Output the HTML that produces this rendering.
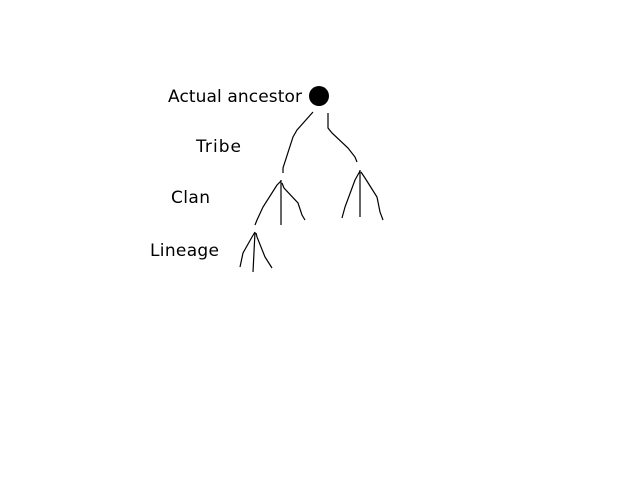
<!DOCTYPE html>
<html><head><meta charset="utf-8"><style>
html,body{margin:0;padding:0;background:#fff;width:640px;height:480px;overflow:hidden}
svg{display:block}
text{font-family:"DejaVu Sans","Liberation Sans",sans-serif;font-size:17px;fill:#000;font-weight:500}
</style></head><body>
<svg width="640" height="480">
<text x="168" y="102" textLength="134">Actual ancestor</text>
<text x="196" y="152" textLength="45">Tribe</text>
<text x="171" y="203" textLength="39">Clan</text>
<text x="150" y="256" textLength="69">Lineage</text>
<circle cx="319" cy="96" r="10" fill="#000"/>
<g fill="none" stroke="#000" stroke-width="1.2">
<polyline points="313,112 297,130 293,137 283,168 283,173"/>
<polyline points="328,113 328,128 332,133 348,148 355,157 357,162"/>
<polyline points="281,181 277,185 263,207 257,220 255,225"/>
<line x1="281" y1="180" x2="281" y2="225"/>
<polyline points="282,183 284,188 298,203 302,215 305,220"/>
<polyline points="360,171 355,180 345,207 342,218"/>
<line x1="360" y1="170" x2="360" y2="217"/>
<polyline points="361,172 365,178 377,197 380,212 383,220"/>
<polyline points="255,232 252,237 243,253 240,267"/>
<line x1="255" y1="232" x2="253" y2="272"/>
<polyline points="256,233 257,237 265,257 272,268"/>
</g>
</svg>
</body></html>
